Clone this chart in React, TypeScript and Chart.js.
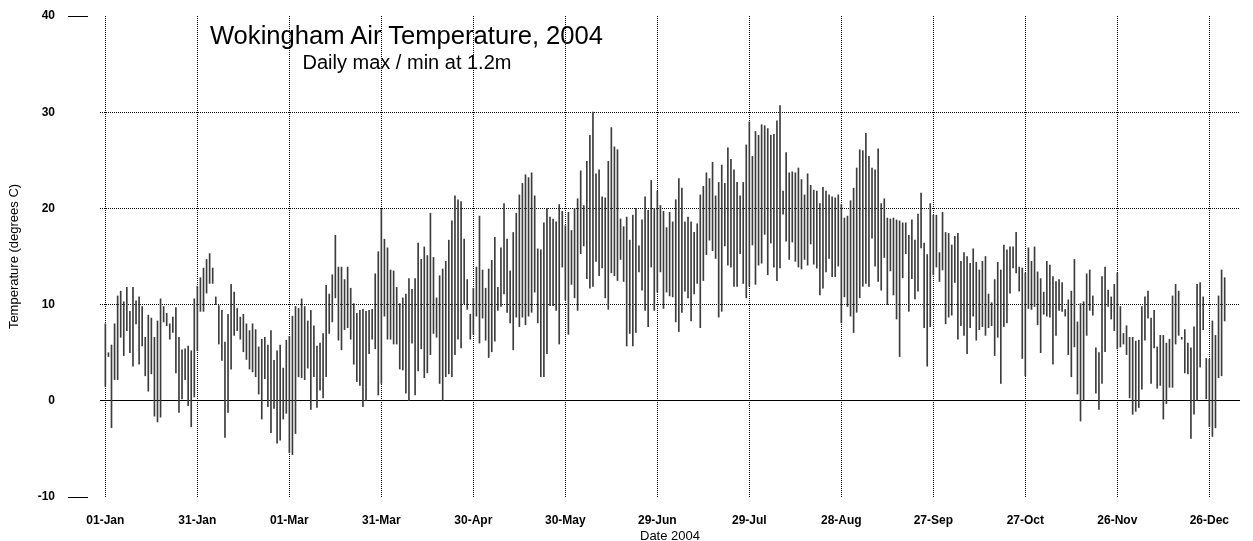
import React, { useEffect, useRef } from "react";
import { Chart, registerables } from "chart.js";

Chart.register(...registerables);

const tickDays = [0, 30, 60, 90, 120, 150, 180, 210, 240, 270, 300, 330, 360];
const tickLabels = ["01-Jan", "31-Jan", "01-Mar", "31-Mar", "30-Apr", "30-May", "29-Jun", "29-Jul", "28-Aug", "27-Sep", "27-Oct", "26-Nov", "26-Dec"];
const yTicks = [-10, 0, 10, 20, 30, 40];

const maxTemps = [
  8.0, 5.0, 5.8, 8.0, 10.9, 11.4, 10.3, 11.8, 9.3, 11.8,
  10.4, 10.8, 9.8, 6.6, 8.9, 8.6, 6.6, 8.3, 10.6, 9.8,
  9.1, 8.0, 8.7, 9.7, 6.6, 5.3, 5.4, 5.7, 5.2, 10.6,
  11.9, 12.8, 13.8, 14.7, 15.3, 13.8, 10.8, 9.9, 9.4, 6.1,
  9.0, 12.1, 11.3, 9.6, 8.7, 9.0, 8.0, 7.3, 8.0, 7.4,
  5.6, 6.4, 6.6, 5.8, 7.3, 4.2, 5.2, 5.8, 3.4, 6.3,
  6.7, 8.8, 9.8, 9.6, 10.6, 9.8, 8.3, 9.4, 7.8, 5.7,
  6.0, 7.0, 12.0, 11.1, 13.1, 17.2, 13.9, 13.9, 12.6, 13.9,
  11.7, 10.1, 9.1, 9.4, 9.5, 9.3, 9.4, 9.5, 13.2, 15.5,
  19.9, 16.8, 15.9, 13.6, 13.5, 11.8, 10.1, 10.7, 11.1, 12.7,
  11.6, 12.7, 16.4, 14.7, 16.0, 15.1, 19.5, 14.9, 10.7, 13.0,
  13.7, 14.5, 16.7, 18.7, 21.3, 20.9, 20.7, 16.8, 12.6, 9.0,
  11.7, 13.9, 19.2, 13.6, 11.7, 13.7, 14.6, 17.0, 11.8, 15.9,
  20.5, 16.8, 13.5, 17.5, 19.5, 21.4, 22.6, 23.5, 23.2, 23.7,
  21.3, 15.8, 15.7, 18.5, 20.0, 19.1, 18.9, 18.6, 20.4, 19.7,
  18.2, 19.6, 17.7, 20.0, 21.0, 23.9, 20.3, 24.9, 27.6, 30.0,
  23.6, 24.0, 21.2, 21.1, 24.9, 28.4, 26.4, 26.1, 18.9, 18.1,
  19.1, 16.7, 19.3, 20.0, 16.1, 18.8, 21.2, 19.8, 22.9, 20.0,
  21.8, 20.3, 19.7, 18.0, 19.6, 18.6, 20.9, 23.1, 22.1, 18.6,
  19.1, 18.6, 17.5, 18.4, 21.4, 22.3, 23.7, 23.1, 24.8, 21.3,
  22.7, 24.5, 22.6, 26.3, 25.1, 24.0, 22.7, 21.3, 22.7, 26.6,
  29.0, 25.4, 28.0, 27.6, 28.7, 28.6, 28.3, 27.6, 27.7, 29.1,
  30.7, 21.8, 25.8, 23.7, 23.8, 23.7, 24.2, 23.0, 21.4, 23.6,
  22.4, 21.9, 21.8, 20.5, 22.2, 21.8, 21.4, 21.2, 21.1, 21.4,
  20.4, 19.0, 19.2, 20.8, 22.1, 24.2, 26.1, 26.0, 27.8, 25.4,
  24.2, 24.0, 26.2, 20.5, 21.0, 19.0, 18.9, 19.0, 18.8, 18.7,
  18.5, 18.5, 17.2, 18.8, 16.7, 19.4, 21.6, 16.4, 15.2, 20.5,
  19.3, 19.3, 15.4, 19.6, 17.5, 17.4, 16.2, 17.1, 17.4, 14.5,
  15.4, 15.0, 14.3, 15.8, 14.4, 13.6, 14.5, 15.0, 11.1, 10.2,
  12.6, 14.4, 13.6, 16.2, 15.7, 16.0, 16.0, 17.5, 13.9, 13.8,
  13.3, 15.9, 14.5, 16.0, 13.4, 12.7, 11.3, 14.5, 14.1, 12.9,
  12.4, 12.6, 12.3, 9.5, 10.5, 11.4, 14.7, 8.2, 10.1, 10.3,
  13.2, 13.6, 10.9, 5.5, 5.0, 12.9, 13.9, 11.5, 10.8, 12.1,
  13.3, 9.8, 7.0, 7.8, 6.6, 6.6, 6.2, 6.3, 9.8, 10.8,
  11.4, 8.6, 9.4, 5.6, 6.8, 6.8, 6.0, 6.4, 10.9, 12.1,
  11.4, 6.6, 7.4, 6.0, 5.5, 7.7, 12.1, 12.3, 10.8, 4.4,
  4.3, 8.3, 6.8, 10.9, 13.6, 12.8,
];

const minTemps = [
  1.5, 4.6, -2.8, 2.2, 2.2, 6.6, 4.7, 7.3, 5.0, 3.6,
  8.0, 3.8, 5.7, 2.6, 1.0, 2.8, -1.6, -2.2, -1.7, 8.2,
  7.8, 6.4, 7.1, 2.9, -1.2, 0.2, 2.2, -0.5, -2.7, 0.4,
  5.2, 9.3, 9.3, 11.2, 12.2, 12.2, 10.0, 5.9, 4.2, -3.8,
  -1.2, 3.3, 6.8, 7.3, 6.4, 5.1, 4.3, 3.3, 3.0, 2.5,
  0.7, -1.9, 2.3, -0.6, -3.3, -0.8, -4.4, -4.1, -1.9, -1.3,
  -5.4, -5.6, -3.4, 2.5, 2.4, 2.2, 3.4, -0.9, 2.5, -0.7,
  1.1, 0.3, 2.5, 7.0, 8.2, 10.7, 6.3, 5.3, 7.4, 7.6,
  6.4, 3.8, 2.0, 1.6, -0.6, 0.0, 4.9, 6.4, 5.4, 0.6,
  1.8, 8.8, 6.4, 6.4, 5.9, 5.9, 3.3, 3.2, 0.8, 0.0,
  6.0, 0.6, 3.1, 5.4, 2.4, 2.9, 4.8, 7.0, 6.6, 1.8,
  0.0, 2.5, 2.8, 2.5, 4.8, 6.4, 5.5, 10.1, 9.5, 6.4,
  6.9, 8.8, 6.0, 8.6, 6.3, 4.5, 5.1, 6.2, 9.4, 9.8,
  11.1, 9.2, 8.1, 5.3, 8.7, 7.7, 8.7, 7.9, 8.8, 9.2,
  11.3, 8.1, 2.5, 2.5, 4.9, 9.9, 9.9, 9.4, 5.9, 13.9,
  10.5, 6.9, 12.1, 10.7, 9.4, 15.3, 16.1, 12.7, 11.7, 11.9,
  14.5, 13.0, 13.8, 10.7, 9.5, 13.3, 13.0, 12.5, 14.7, 12.4,
  5.7, 7.0, 5.7, 7.1, 13.4, 11.5, 9.4, 7.7, 13.9, 9.4,
  11.3, 13.4, 9.6, 11.3, 10.9, 10.8, 8.2, 7.2, 9.2, 11.4,
  10.7, 8.3, 11.1, 12.2, 7.6, 12.5, 15.2, 16.7, 15.6, 14.8,
  8.7, 9.3, 16.1, 14.1, 13.9, 11.9, 11.9, 15.3, 12.2, 10.7,
  11.9, 16.2, 12.1, 14.1, 14.3, 17.3, 13.1, 16.4, 13.9, 12.5,
  13.8, 19.4, 16.6, 14.7, 16.5, 14.5, 13.9, 13.7, 14.7, 14.1,
  16.3, 14.2, 13.8, 11.0, 11.7, 13.4, 14.8, 12.9, 12.9, 14.0,
  8.1, 10.8, 9.8, 8.8, 7.1, 9.2, 10.7, 11.9, 12.2, 11.9,
  16.9, 14.0, 12.4, 11.5, 14.9, 10.0, 13.5, 11.0, 8.5, 4.6,
  12.8, 15.3, 9.3, 12.7, 10.6, 11.4, 15.9, 7.6, 3.6, 7.7,
  13.1, 13.9, 12.4, 13.6, 8.0, 8.7, 8.9, 12.3, 6.4, 7.8,
  6.8, 4.9, 7.6, 8.8, 6.3, 7.4, 7.7, 6.8, 7.6, 7.8,
  4.7, 6.6, 1.8, 7.7, 8.1, 11.2, 13.8, 13.3, 11.4, 4.4,
  2.6, 9.6, 9.5, 9.8, 7.9, 5.0, 9.0, 8.8, 8.7, 3.8,
  6.8, 9.4, 9.3, 8.8, 4.8, 2.5, 5.6, 0.7, -2.1, 0.0,
  6.8, 9.4, 8.9, 0.8, -0.9, 1.8, 5.1, 9.8, 8.5, 7.3,
  5.4, 5.6, 5.9, 4.8, 0.3, -1.4, -1.1, -0.7, 1.2, 6.3,
  8.6, 1.8, 5.5, 1.3, 1.6, -1.9, -0.3, 1.4, 1.4, 5.9,
  6.8, 6.4, 2.9, 2.8, -3.9, -1.4, 0.0, 3.5, 7.4, 0.2,
  -2.7, -3.7, -2.8, 2.4, 2.6, 8.3,
];

const FONT = "'Liberation Sans', Arial, Helvetica, sans-serif";

export default function App() {
  const canvasRef = useRef<HTMLCanvasElement | null>(null);

  useEffect(() => {
    const canvas = canvasRef.current;
    if (!canvas) return;
    const points = maxTemps.map((mx, i) => ({ x: i, y: [minTemps[i], mx] }));
    const chart = new Chart(canvas, {
      type: "bar",
      data: {
        datasets: [
          {
            data: points as any,
            backgroundColor: "#3c3c3c",
            borderWidth: 0,
            barThickness: 1,
          },
        ],
      },
      options: {
        responsive: false,
        animation: false,
        events: [],
        layout: { padding: { top: 16, right: 13, left: 0, bottom: 0 } },
        plugins: {
          legend: { display: false },
          tooltip: { enabled: false },
          title: { display: false },
        },
        scales: {
          x: {
            type: "linear",
            min: -1.75,
            max: 370,
            offset: false,
            afterBuildTicks: (scale: any) => {
              scale.ticks = tickDays.map((v) => ({ value: v }));
            },
            afterFit: (scale: any) => {
              scale.height = 44;
            },
            grid: {
              offset: false,
              color: "#000000",
              lineWidth: 1,
              drawTicks: false,
            },
            border: { display: false, dash: [1, 1] },
            ticks: {
              autoSkip: false,
              maxRotation: 0,
              padding: 16,
              color: "#000000",
              font: { family: FONT, size: 12, weight: "bold" },
              callback: (v: any) => {
                const k = tickDays.indexOf(Number(v));
                return k >= 0 ? tickLabels[k] : "";
              },
            },
            title: {
              display: true,
              text: "Date 2004",
              color: "#000000",
              font: { family: FONT, size: 13, lineHeight: 0.75 },
              padding: { top: 0, bottom: 0 },
            },
          },
          y: {
            type: "linear",
            min: -10,
            max: 40,
            afterBuildTicks: (scale: any) => {
              scale.ticks = yTicks.map((v) => ({ value: v }));
            },
            afterFit: (scale: any) => {
              scale.width = 100;
            },
            grid: {
              lineWidth: 1,
              drawTicks: true,
              tickLength: 40,
              color: (ctx: any) => {
                const v = ctx.tick ? ctx.tick.value : null;
                if (v === 40 || v === -10) return "rgba(0,0,0,0)";
                return "#000000";
              },
              tickColor: (ctx: any) => {
                const v = ctx.tick ? ctx.tick.value : null;
                return v === 40 || v === -10 ? "#000000" : "rgba(0,0,0,0)";
              },
              tickBorderDash: [20, 400],
              tickBorderDashOffset: 412,
            } as any,
            border: {
              display: false,
              dash: (ctx: any) => (ctx.tick && ctx.tick.value === 0 ? [] : [1, 1]),
            } as any,
            ticks: {
              padding: 5,
              color: "#000000",
              font: { family: FONT, size: 12, weight: "bold" },
            },
            title: {
              display: true,
              text: "Temperature (degrees C)",
              color: "#000000",
              font: { family: FONT, size: 13, lineHeight: 1.2 },
              padding: { top: 7, bottom: 0 },
            },
          },
        },
      } as any,
    });
    return () => chart.destroy();
  }, []);

  return (
    <div style={{ position: "absolute", left: 0, top: 0, width: 1253, height: 541, background: "#ffffff", overflow: "hidden" }}>
      <canvas ref={canvasRef} width={1253} height={541} style={{ display: "block", width: 1253, height: 541 }} />
      <div
        style={{
          position: "absolute",
          left: 0,
          width: 813,
          top: 22,
          textAlign: "center",
          fontFamily: FONT,
          fontSize: 25.6,
          lineHeight: "26px",
          color: "#000",
          whiteSpace: "nowrap",
        }}
      >
        Wokingham Air Temperature, 2004
      </div>
      <div
        style={{
          position: "absolute",
          left: 0,
          width: 814,
          top: 52,
          textAlign: "center",
          fontFamily: FONT,
          fontSize: 20,
          lineHeight: "20px",
          color: "#000",
          whiteSpace: "nowrap",
        }}
      >
        Daily max / min at 1.2m
      </div>
    </div>
  );
}
